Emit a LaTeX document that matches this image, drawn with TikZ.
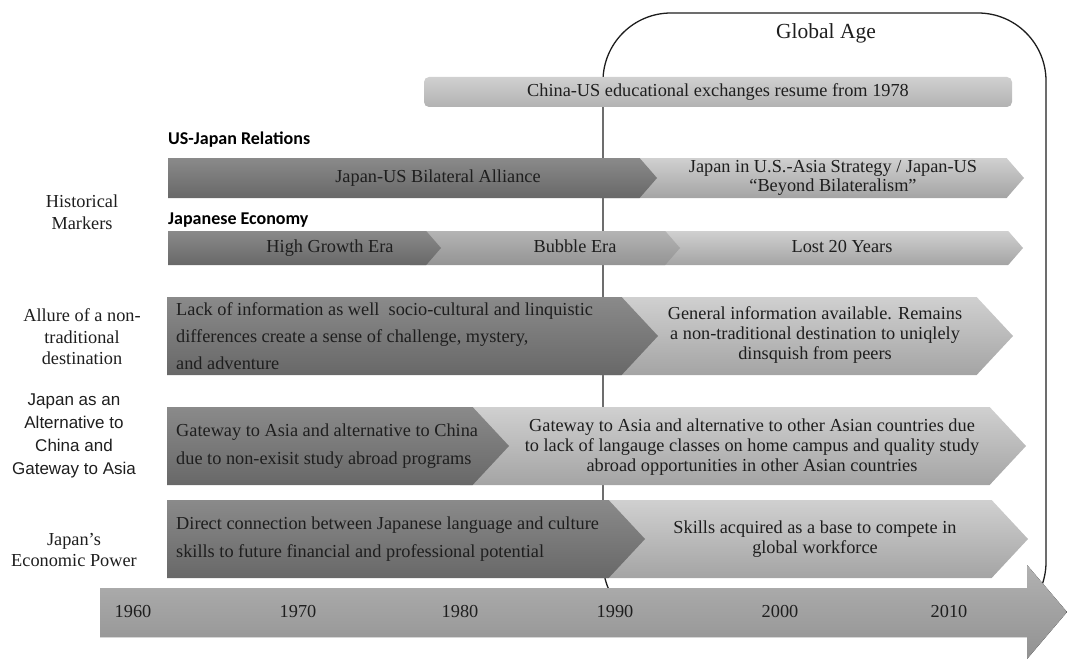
\documentclass[tikz,border=0pt]{standalone}
\usepackage{fontspec}
\setmainfont{Liberation Serif}
\setsansfont{Liberation Sans}
\newfontfamily\headfont{Carlito}
\usetikzlibrary{shapes.symbols}

\definecolor{darktop}{RGB}{138,138,138}
\definecolor{darkbot}{RGB}{104,104,104}
\definecolor{midtop}{RGB}{180,180,180}
\definecolor{midbot}{RGB}{148,148,148}
\definecolor{lighttop}{RGB}{208,208,208}
\definecolor{lightbot}{RGB}{164,164,164}
\definecolor{axisgray}{RGB}{158,158,158}
\definecolor{ink}{RGB}{30,30,30}

\begin{document}
\begin{tikzpicture}[x=1pt,y=-1pt,
seg/.style={%
shape=signal,
signal from=nowhere,
signal to=east,
anchor=west,
inner sep=0pt,
outer sep=0pt,
draw=none
},
dark/.style={seg,top color=darktop,bottom color=darkbot},
mid/.style={seg,top color=midtop,bottom color=midbot},
light/.style={seg,top color=lighttop,bottom color=lightbot},
slim/.style={signal pointer angle=98},
wide/.style={minimum height=78pt,signal pointer angle=94},
txt/.style={%
font=\fontsize{18.3}{19.8}\selectfont,
text=ink,
inner sep=0pt,
align=center
},
oneline/.style={txt,text height=12.5pt,text depth=4pt},
dtxt/.style={%
txt,
anchor=west,
align=left,
font=\fontsize{18.3}{27.3}\selectfont
},
head/.style={%
font=\headfont\bfseries\fontsize{18}{20}\selectfont,
anchor=west,
inner sep=0pt
},
side/.style={txt,font=\fontsize{18.3}{21.5}\selectfont},
]
\useasboundingbox (0,0) rectangle (1067,658);
%% Global age frame
\draw[ink,line width=1.3pt,rounded corners=68pt] (603,630) rectangle (1046,13);
\node[oneline,font=\fontsize{21.5}{24}\selectfont] (global) at (826,34) {Global Age};
\node[oneline,rounded corners=5pt,top color=lighttop,bottom color=midtop!85!lightbot,
minimum width=588pt,minimum height=30pt] (china) at (718,92)
{China-US educational exchanges resume from 1978};
%% Historical markers
\node[head] (usjp) at (168,140) {US-Japan Relations};
\node[light,slim,minimum height=40pt,minimum width=424pt] (rel2) at (600,178) {};
\node[dark,slim,minimum height=40pt,minimum width=489pt] (rel1) at (168,178) {};
\node[oneline] at (438,178) {Japan-US Bilateral Alliance};
\node[txt] at (833,178) {Japan in U.S.-Asia Strategy / Japan-US\\``Beyond Bilateralism''};
\node[head] (jpeco) at (168,220) {Japanese Economy};
\node[light,slim,minimum height=34pt,minimum width=383pt] (eco3) at (640,248) {};
\node[mid,slim,minimum height=34pt,minimum width=270pt] (eco2) at (410,248) {};
\node[dark,slim,minimum height=34pt,minimum width=273pt] (eco1) at (168,248) {};
\node[oneline] at (330,248) {High Growth Era};
\node[oneline] at (575,248) {Bubble Era};
\node[oneline] at (842,248) {Lost 20 Years};
%% Allure
\node[light,wide,minimum width=413pt] (allure2) at (600,336) {};
\node[dark,wide,minimum width=491pt] (allure1) at (167,336) {};
\node[dtxt] at (176,336) {Lack of information as well~ socio-cultural and linquistic\\
differences create a sense of challenge, mystery,\\and adventure};
\node[txt] at (815,335) {General information available. Remains\\
a non-traditional destination to uniqlely\\dinsquish from peers};
%% Gateway
\node[light,wide,minimum width=566pt] (gate2) at (460,446) {};
\node[dark,wide,minimum width=342pt] (gate1) at (167,446) {};
\node[dtxt] at (176,446) {Gateway to Asia and alternative to China\\
due to non-exisit study abroad programs};
\node[txt] at (752,447) {Gateway to Asia and alternative to other Asian countries due\\
to lack of langauge classes on home campus and quality study\\
abroad opportunities in other Asian countries};
%% Economic power
\node[light,wide,minimum width=438pt] (power2) at (590,539) {};
\node[dark,wide,minimum width=478pt] (power1) at (167,539) {};
\node[dtxt] at (176,539) {Direct connection between Japanese language and culture\\
skills to future financial and professional potential};
\node[txt] at (815,539) {Skills acquired as a base to compete in\\global workforce};
%% Row labels
\node[side] (lhist) at (82,212) {Historical\\Markers};
\node[side] (lallure) at (82,337) {Allure of a non-\\traditional\\destination};
\node[side,font=\sffamily\fontsize{17}{23}\selectfont] (lgate) at (74,436)
{Japan as an\\Alternative to\\China and\\Gateway to Asia};
\node[side] (lpower) at (74,550) {Japan's\\Economic Power};
%% Timeline
\fill[top color=axisgray!80!white,bottom color=axisgray!92!black]
(100,588)--(1027,588)--(1027,565)--(1067,612)--(1027,659)--(1027,637)--(100,637)--cycle;
\foreach \x/\yr in {133/1960,298/1970,460/1980,615/1990,780/2000,949/2010}{%
\node[oneline] (y\yr) at (\x,613) {\yr};
}
\end{tikzpicture}
\end{document}
